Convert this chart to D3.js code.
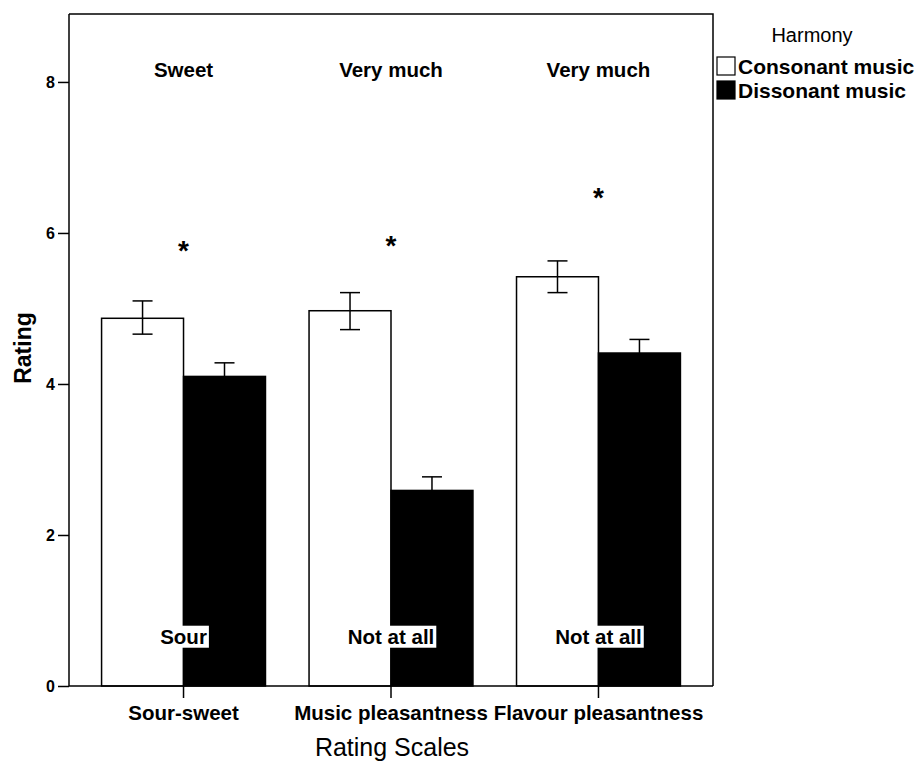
<!DOCTYPE html>
<html>
<head>
<meta charset="utf-8">
<script src="https://cdn.jsdelivr.net/npm/d3@7"></script>
<style>
  html, body { margin: 0; padding: 0; background: #fff; }
  svg { display: block; font-family: "Liberation Sans", Arial, Helvetica, sans-serif; }
  .ytick text { font-size: 16px; font-weight: bold; }
</style>
</head>
<body>
<svg id="chart" width="916" height="763"></svg>
<script>
// ---- data ----
const categories = ["Sour-sweet", "Music pleasantness", "Flavour pleasantness"];
const seriesNames = ["Consonant music", "Dissonant music"];
const consonantMeans = [4.87, 4.97, 5.42];
const consonantLow   = [4.66, 4.72, 5.21];
const consonantHigh  = [5.10, 5.21, 5.63];
const dissonantMeans = [4.10, 2.59, 4.41];
const dissonantLow   = [3.92, 2.41, 4.23];
const dissonantHigh  = [4.28, 2.77, 4.59];
const topLabels    = ["Sweet", "Very much", "Very much"];
const bottomLabels = ["Sour", "Not at all", "Not at all"];
const starValues   = [5.84, 5.91, 6.54];
const yTicks = [0, 2, 4, 6, 8];
const yMax = 8.9;
const legendTitle = "Harmony";
const xTitle = "Rating Scales";
const yTitle = "Rating";

const seriesFill = ["#ffffff", "#000000"];

const rows = categories.map((c, i) => ({
  cat: c,
  bars: [
    { s: seriesNames[0], v: consonantMeans[i], lo: consonantLow[i], hi: consonantHigh[i] },
    { s: seriesNames[1], v: dissonantMeans[i], lo: dissonantLow[i], hi: dissonantHigh[i] }
  ]
}));

// ---- layout ----
const L = 69, R = 713, T = 14, B = 686;
const svg = d3.select("#chart");

const y = d3.scaleLinear().domain([0, yMax]).range([B, T]);
const x0 = d3.scaleBand().domain(categories).range([L, R]).paddingInner(0.21).paddingOuter(0.157);
const x1 = d3.scaleBand().domain(seriesNames).range([0, x0.bandwidth()]).padding(0);
const color = d3.scaleOrdinal().domain(seriesNames).range(seriesFill);

// frame (top and right)
svg.append("path")
  .attr("d", `M${L},${T}H${R}V${B}`)
  .attr("fill", "none").attr("stroke", "#000").attr("stroke-width", 1.5);

// bars
const g = svg.append("g");
const groups = g.selectAll("g.grp").data(rows).join("g")
  .attr("class", "grp")
  .attr("transform", d => `translate(${x0(d.cat)},0)`);

groups.selectAll("rect").data(d => d.bars).join("rect")
  .attr("x", d => x1(d.s))
  .attr("y", d => y(d.v))
  .attr("width", x1.bandwidth())
  .attr("height", d => y(0) - y(d.v))
  .attr("fill", d => color(d.s))
  .attr("stroke", "#000").attr("stroke-width", 1.5);

// error bars
const cap = 10;
groups.selectAll("g.err").data(d => d.bars).join("g")
  .attr("class", "err")
  .each(function(d) {
    const cx = x1(d.s) + x1.bandwidth() / 2;
    const e = d3.select(this);
    e.append("line").attr("x1", cx).attr("x2", cx).attr("y1", y(d.lo)).attr("y2", y(d.hi));
    e.append("line").attr("x1", cx - cap).attr("x2", cx + cap).attr("y1", y(d.hi)).attr("y2", y(d.hi));
    e.append("line").attr("x1", cx - cap).attr("x2", cx + cap).attr("y1", y(d.lo)).attr("y2", y(d.lo));
  })
  .selectAll("line").attr("stroke", "#000").attr("stroke-width", 1.5);

// top reference labels
const cx = c => x0(c) + x0.bandwidth() / 2;
svg.selectAll("text.top").data(categories).join("text")
  .attr("class", "top")
  .attr("x", c => cx(c)).attr("y", y(8.07))
  .attr("text-anchor", "middle")
  .attr("font-size", 20.5).attr("font-weight", "bold")
  .text((c, i) => topLabels[i]);

// bottom reference labels with white backgrounds
const bl = svg.selectAll("g.bot").data(categories).join("g").attr("class", "bot");
bl.each(function(c, i) {
  const grp = d3.select(this);
  const r = grp.append("rect").attr("fill", "#fff");
  const t = grp.append("text")
    .attr("x", cx(c)).attr("y", y(0.56))
    .attr("text-anchor", "middle")
    .attr("font-size", 20.5).attr("font-weight", "bold")
    .text(bottomLabels[i]);
  const bb = t.node().getBBox();
  r.attr("x", bb.x).attr("y", bb.y + 1).attr("width", bb.width + 2).attr("height", bb.height - 1);
});

// significance stars
svg.selectAll("text.star").data(categories).join("text")
  .attr("class", "star")
  .attr("x", c => cx(c)).attr("y", (c, i) => y(starValues[i]) + 15)
  .attr("text-anchor", "middle")
  .attr("font-size", 28).attr("font-weight", "bold")
  .text("*");

// axes
const yAxis = d3.axisLeft(y).tickValues(yTicks).tickSize(11).tickPadding(3).tickFormat(d3.format("d"));
const ya = svg.append("g").attr("class", "ytick").attr("transform", `translate(${L},0)`).call(yAxis);
ya.attr("font-size", null).attr("font-family", null);
ya.select(".domain").attr("d", `M0,${T}V${B}`).attr("stroke-width", 1.5);
ya.selectAll(".tick line").attr("stroke-width", 1.5);
ya.selectAll(".tick text").attr("fill", "#000");

const xAxis = d3.axisBottom(x0).tickSize(12).tickPadding(7);
const xa = svg.append("g").attr("transform", `translate(0,${B})`).call(xAxis);
xa.attr("font-size", null).attr("font-family", null);
xa.select(".domain").attr("d", `M${L},0H${R}`).attr("stroke-width", 1.5);
xa.selectAll(".tick line").attr("stroke-width", 1.5);
xa.selectAll(".tick text")
  .style("font-size", "20.5px").style("font-weight", "bold")
  .attr("fill", "#000")
  .attr("dy", "0.71em");

// axis titles
svg.append("text")
  .attr("x", 392).attr("y", 756)
  .attr("text-anchor", "middle")
  .attr("font-size", 25)
  .text(xTitle);

svg.append("text")
  .attr("transform", `translate(31,348) rotate(-90)`)
  .attr("text-anchor", "middle")
  .attr("font-size", 23).attr("font-weight", "bold")
  .text(yTitle);

// legend
const lg = svg.append("g").attr("transform", "translate(717,0)");
lg.append("text").attr("x", 95).attr("y", 42).attr("text-anchor", "middle")
  .attr("font-size", 20).text(legendTitle);
const items = lg.selectAll("g.item").data(seriesNames).join("g")
  .attr("class", "item")
  .attr("transform", (d, i) => `translate(0,${57 + i * 24})`);
items.append("rect").attr("width", 18).attr("height", 18)
  .attr("fill", d => color(d)).attr("stroke", "#000").attr("stroke-width", 1.2);
items.append("text").attr("x", 21).attr("y", 17)
  .attr("font-size", 21).attr("font-weight", "bold").text(d => d);
</script>
</body>
</html>
